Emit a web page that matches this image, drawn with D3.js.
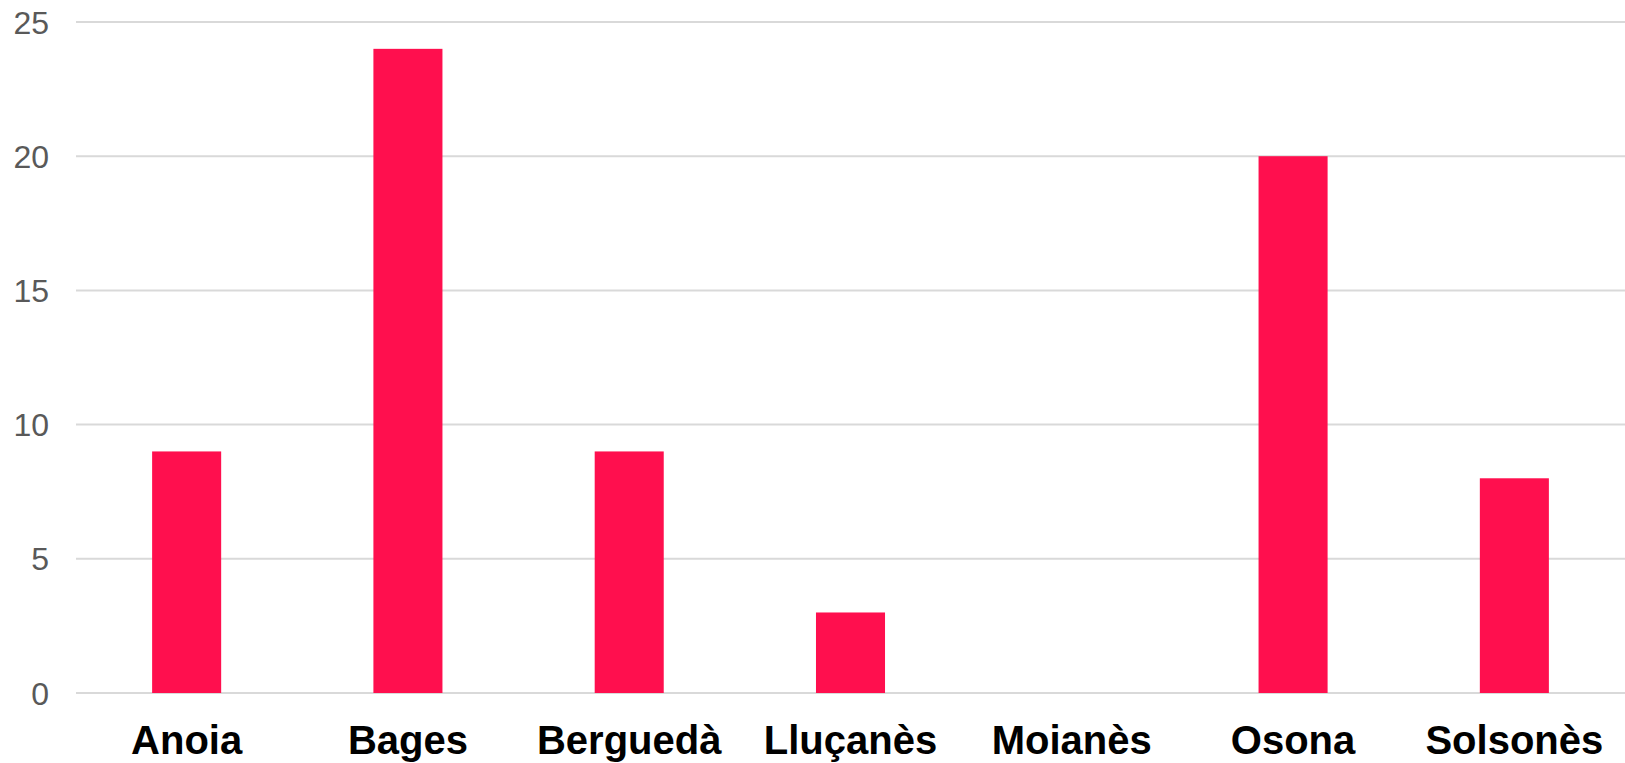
<!DOCTYPE html>
<html>
<head>
<meta charset="utf-8">
<script src="https://cdn.jsdelivr.net/npm/d3@7/dist/d3.min.js"></script>
<style>
html, body { margin: 0; padding: 0; background: #fff; }
svg { display: block; }
</style>
</head>
<body>
<svg id="chart" width="1625" height="763"></svg>
<script>
const categories = ["Anoia", "Bages", "Berguedà", "Lluçanès", "Moianès", "Osona", "Solsonès"];
const values = [9, 24, 9, 3, 0, 20, 8];
const yTicks = [0, 5, 10, 15, 20, 25];

(function () {
  const svg = d3.select("#chart");
  const plotLeft = 76, plotRight = 1625, plotTop = 22, plotBottom = 693;

  const x = d3.scaleBand().domain(categories).range([plotLeft, plotRight])
    .paddingInner(0.688).paddingOuter(0.344);
  const y = d3.scaleLinear().domain([0, 25]).range([plotBottom, plotTop]);

  // gridlines
  svg.append("g").selectAll("line").data(yTicks).join("line")
    .attr("x1", plotLeft).attr("x2", plotRight)
    .attr("y1", d => y(d)).attr("y2", d => y(d))
    .attr("stroke", "#d9d9d9").attr("stroke-width", 2);

  // y labels
  svg.append("g").selectAll("text").data(yTicks).join("text")
    .attr("x", 49).attr("y", d => y(d))
    .attr("dy", "0.36em")
    .attr("text-anchor", "end")
    .attr("font-family", "Liberation Sans, Arial, sans-serif")
    .attr("font-size", 32)
    .attr("fill", "#595959")
    .text(d => d);

  // bars
  svg.append("g").selectAll("rect").data(categories).join("rect")
    .attr("x", d => x(d))
    .attr("width", x.bandwidth())
    .attr("y", (d, i) => y(values[i]))
    .attr("height", (d, i) => y(0) - y(values[i]))
    .attr("fill", "#ff0f4e");

  // x labels
  svg.append("g").selectAll("text").data(categories).join("text")
    .attr("x", d => x(d) + x.bandwidth() / 2)
    .attr("y", 754)
    .attr("text-anchor", "middle")
    .attr("font-family", "Liberation Sans, Arial, sans-serif")
    .attr("font-weight", "bold")
    .attr("font-size", 40)
    .attr("fill", "#000")
    .text(d => d);
})();
</script>
</body>
</html>
